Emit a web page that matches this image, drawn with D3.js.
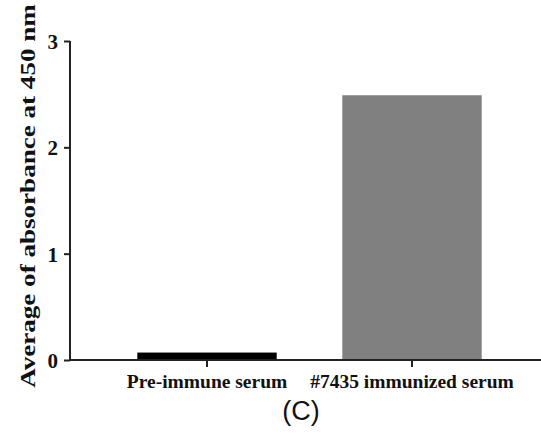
<!DOCTYPE html>
<html><head><meta charset="utf-8">
<script src="https://cdn.jsdelivr.net/npm/d3@7"></script>
<style>body{margin:0;background:#fff}
.serif{font-family:"Liberation Serif","DejaVu Serif",serif;font-weight:bold;fill:#111}
.sans{font-family:"Liberation Sans",Arial,sans-serif;fill:#111}
</style>
</head><body>
<svg id="c" width="541" height="434"></svg>
<script>
const categories = ["Pre-immune serum", "#7435 immunized serum"];
const values = [0.07, 2.49];
const barColors = ["#000000", "#808080"];
const yTicks = [0, 1, 2, 3];
const yTitle = "Average of absorbance at 450 nm";
const caption = "(C)";

const svg = d3.select("#c");
const y = d3.scaleLinear().domain([0, 3]).range([360, 41]);
const x = d3.scaleBand().domain(categories).range([104.5, 514.5]).paddingInner(0.32).paddingOuter(0.16);

svg.selectAll("rect.bar").data(categories).enter().append("rect")
  .attr("x", d => x(d)).attr("width", x.bandwidth())
  .attr("y", (d, i) => y(values[i])).attr("height", (d, i) => y(0) - y(values[i]))
  .attr("fill", (d, i) => barColors[i]);

const yAxis = svg.append("g").attr("transform", "translate(70,0)")
  .call(d3.axisLeft(y).tickValues(yTicks).tickFormat(d3.format("d")).tickSize(6).tickSizeOuter(0));
yAxis.attr("font-family", null).attr("font-size", null);
yAxis.select(".domain").attr("stroke", "#222").attr("stroke-width", 2).attr("d", `M0,${y(3)}V${y(0)}`);
yAxis.selectAll(".tick line").attr("stroke", "#222").attr("stroke-width", 2);
yAxis.selectAll(".tick text").attr("class", "serif").style("font-size", "21px").attr("x", -12).attr("dy", "0.36em").attr("fill", null);

const xAxis = svg.append("g").attr("transform", `translate(0,360)`)
  .call(d3.axisBottom(x).tickSize(7).tickSizeOuter(0));
xAxis.attr("font-family", null).attr("font-size", null);
xAxis.select(".domain").attr("stroke", "#222").attr("stroke-width", 2).attr("d", "M70,0H541");
xAxis.selectAll(".tick line").attr("stroke", "#222").attr("stroke-width", 2);
xAxis.selectAll(".tick text").attr("class", "serif").style("font-size", "19.5px").attr("fill", null).attr("dy", null).attr("y", 28);

svg.append("text").attr("class", "serif").attr("transform", "translate(35,196) rotate(-90) scale(1.26,1)")
  .attr("text-anchor", "middle").style("font-size", "21.5px").text(yTitle);

svg.append("text").attr("class", "sans").attr("x", 301).attr("y", 420).attr("text-anchor", "middle")
  .style("font-size", "27px").text(caption);
</script>
</body></html>
